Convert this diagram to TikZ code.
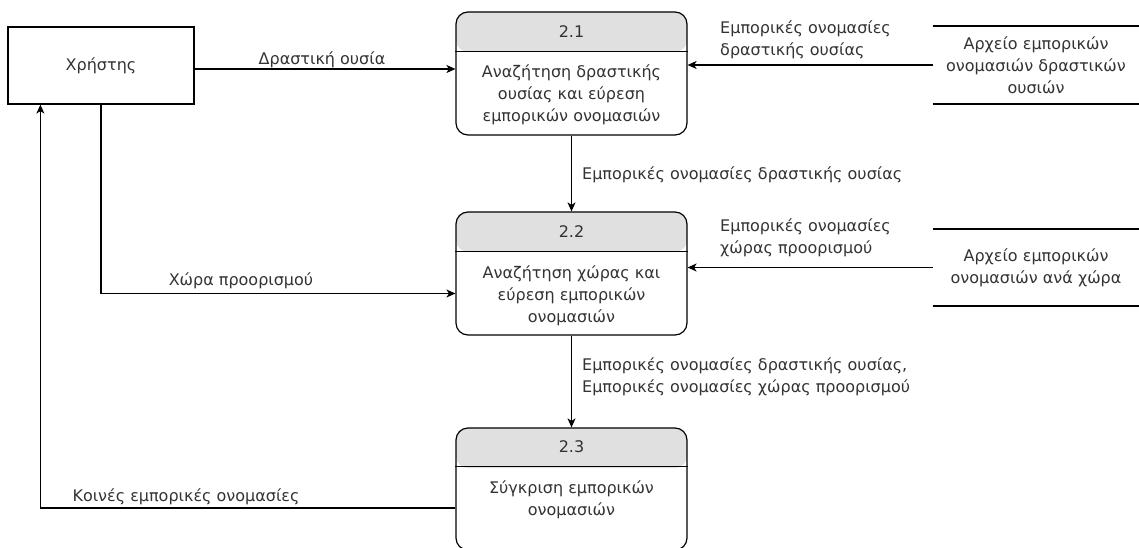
\documentclass[tikz,border=0pt]{standalone}
\usepackage{fontspec}
\setmainfont{DejaVu Sans}
\usetikzlibrary{arrows.meta,calc}
\definecolor{txt}{RGB}{51,51,51}
\definecolor{head}{RGB}{224,224,224}
\begin{document}
\begin{tikzpicture}[x=1pt,y=-1pt,
  every node/.style={font=\fontsize{16}{22}\selectfont, text=txt, inner sep=0pt},
  ent/.style={draw, line width=1.2pt, minimum width=186pt, minimum height=77pt},
  proc/.style={draw, line width=1.2pt, rounded corners=12pt, minimum width=231pt, minimum height=#1,
    path picture={\fill[head] (path picture bounding box.north west) rectangle ([yshift=-40pt]path picture bounding box.north east);}},
  store/.style={minimum width=206pt, minimum height=78pt, align=center},
  flow/.style={line width=1.2pt, -{Stealth[length=9pt,width=8pt,inset=2.5pt]}},
  lbl/.style={align=left, anchor=west},
  sep/.style={line width=1.2pt},
  storeline/.style={line width=2pt}
]
\useasboundingbox (0,0) rectangle (1139,548);

% entity
\node[ent] (user) at (101,65.5) {Χρήστης};

% processes
\node[proc=123pt] (p1) at (571.5,73.5) {};
\draw[sep] ([yshift=-40pt]p1.north west) -- ([yshift=-40pt]p1.north east);
\node (p1h) at ($(p1.north)+(0,20)$) {2.1};
\node[align=center] (p1b) at ($(p1.north)+(0,83)$) {Αναζήτηση δραστικής\\ουσίας και εύρεση\\εμπορικών ονομασιών};

\node[proc=123pt] (p2) at (571.5,273.5) {};
\draw[sep] ([yshift=-40pt]p2.north west) -- ([yshift=-40pt]p2.north east);
\node (p2h) at ($(p2.north)+(0,20)$) {2.2};
\node[align=center] (p2b) at ($(p2.north)+(0,84)$) {Αναζήτηση χώρας και\\εύρεση εμπορικών\\ονομασιών};

\node[proc=122pt] (p3) at (571.5,489) {};
\draw[sep] ([yshift=-39pt]p3.north west) -- ([yshift=-39pt]p3.north east);
\node (p3h) at ($(p3.north)+(0,19.5)$) {2.3};
\node[align=center] (p3b) at ($(p3.north)+(0,72)$) {Σύγκριση εμπορικών\\ονομασιών};

% data stores
\node[store] (ds1) at (1036,65) {Αρχείο εμπορικών\\ονομασιών δραστικών\\ουσιών};
\draw[storeline] (ds1.north west) -- (ds1.north east);
\draw[storeline] (ds1.south west) -- (ds1.south east);
\node[store, minimum height=77pt] (ds2) at (1036,267.5) {Αρχείο εμπορικών\\ονομασιών ανά χώρα};
\draw[storeline] (ds2.north west) -- (ds2.north east);
\draw[storeline] (ds2.south west) -- (ds2.south east);

% flows
\coordinate (u1) at ($(user.east)+(0,3.5)$);
\draw[flow] (u1) -- (u1 -| p1.west);
\node (l1) at (322,60) {Δραστική ουσία};

\draw[flow] (ds1.west) -- (ds1.west -| p1.east);
\node[lbl] (l2) at (720,40) {Εμπορικές ονομασίες\\δραστικής ουσίας};

\draw[flow] (p1.south) -- (p2.north);
\node[lbl] (l3) at (582,175) {Εμπορικές ονομασίες δραστικής ουσίας};

\draw[flow] (ds2.west) -- (ds2.west -| p2.east);
\node[lbl] (l4) at (720,238) {Εμπορικές ονομασίες\\χώρας προορισμού};

\coordinate (p2in) at ($(p2.west)+(0,20)$);
\draw[flow] (user.south) |- (p2in);
\node (l5) at (241,281) {Χώρα προορισμού};

\draw[flow] (p2.south) -- (p3.north);
\node[lbl] (l6) at (582,376.5) {Εμπορικές ονομασίες δραστικής ουσίας,\\Εμπορικές ονομασίες χώρας προορισμού};

\coordinate (p3out) at ($(p3.west)+(0,19)$);
\coordinate (uin) at ($(user.south west)+(33,0)$);
\draw[flow] (p3out) -| (uin);
\node (l7) at (186,497) {Κοινές εμπορικές ονομασίες};
\end{tikzpicture}
\end{document}
